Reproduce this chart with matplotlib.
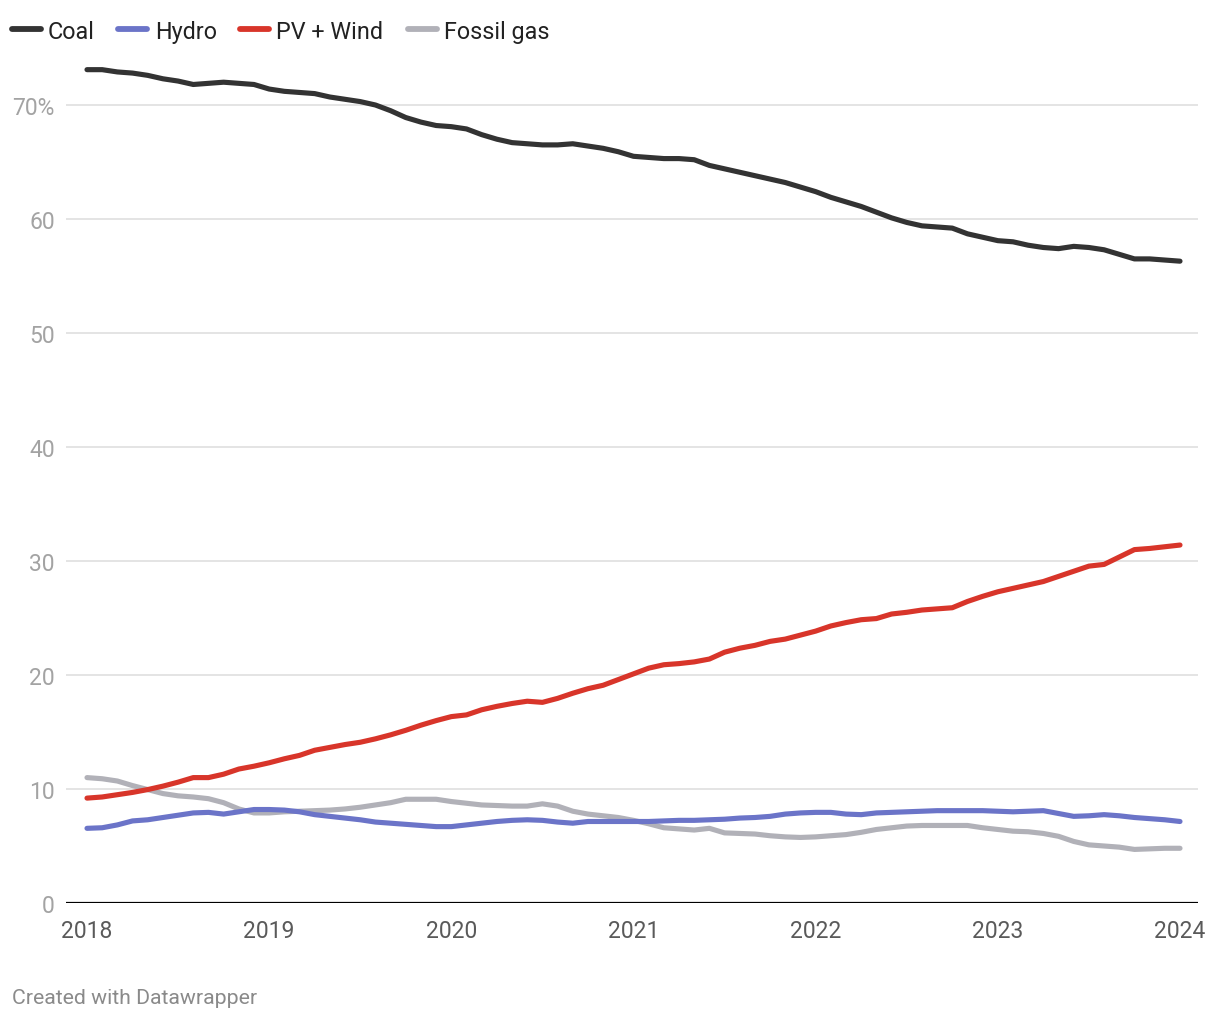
import matplotlib
matplotlib.use("Agg")
import matplotlib.pyplot as plt
from matplotlib.lines import Line2D
import numpy as np

plt.rcParams['font.family'] = ['Roboto', 'DejaVu Sans']

# Monthly values, Jan 2018 .. Jan 2024 (share of generation, %)
coal = [73.1, 73.1, 72.9, 72.8, 72.6, 72.3, 72.1, 71.8, 71.9, 72.0, 71.9, 71.8,
        71.4, 71.2, 71.1, 71.0, 70.7, 70.5, 70.3, 70.0, 69.5, 68.9, 68.5, 68.2,
        68.1, 67.9, 67.4, 67.0, 66.7, 66.6, 66.5, 66.5, 66.6, 66.4, 66.2, 65.9,
        65.5, 65.4, 65.3, 65.3, 65.2, 64.7, 64.4, 64.1, 63.8, 63.5, 63.2, 62.8,
        62.4, 61.9, 61.5, 61.1, 60.6, 60.1, 59.7, 59.4, 59.3, 59.2, 58.7, 58.4,
        58.1, 58.0, 57.7, 57.5, 57.4, 57.6, 57.5, 57.3, 56.9, 56.5, 56.5, 56.4,
        56.3]
hydro = [6.55, 6.6, 6.85, 7.2, 7.3, 7.5, 7.7, 7.9, 7.95, 7.8, 8.0, 8.2,
         8.2, 8.15, 8.0, 7.75, 7.6, 7.45, 7.3, 7.1, 7.0, 6.9, 6.8, 6.7,
         6.7, 6.85, 7.0, 7.15, 7.25, 7.3, 7.25, 7.1, 7.0, 7.15, 7.15, 7.15,
         7.15, 7.15, 7.2, 7.25, 7.25, 7.3, 7.35, 7.45, 7.5, 7.6, 7.8, 7.9,
         7.95, 7.95, 7.8, 7.75, 7.9, 7.95, 8.0, 8.05, 8.1, 8.1, 8.1, 8.1,
         8.05, 8.0, 8.05, 8.1, 7.85, 7.6, 7.65, 7.75, 7.65, 7.5, 7.4, 7.3,
         7.15]
pv_wind = [9.2, 9.3, 9.5, 9.7, 9.95, 10.25, 10.6, 11.0, 11.0, 11.3, 11.75, 12.0,
           12.3, 12.65, 12.95, 13.4, 13.65, 13.9, 14.1, 14.4, 14.75, 15.15, 15.6, 16.0,
           16.35, 16.5, 16.95, 17.25, 17.5, 17.7, 17.6, 17.95, 18.4, 18.8, 19.1, 19.6,
           20.1, 20.6, 20.9, 21.0, 21.15, 21.4, 22.0, 22.35, 22.6, 22.95, 23.15, 23.5,
           23.85, 24.3, 24.6, 24.85, 24.95, 25.35, 25.5, 25.7, 25.8, 25.9, 26.45, 26.9,
           27.3, 27.6, 27.9, 28.2, 28.65, 29.1, 29.55, 29.7, 30.35, 31.0, 31.1, 31.25,
           31.4]
fossil_gas = [11.0, 10.9, 10.7, 10.3, 9.95, 9.6, 9.4, 9.3, 9.15, 8.8, 8.25, 7.9,
              7.9, 8.0, 8.05, 8.1, 8.15, 8.25, 8.4, 8.6, 8.8, 9.1, 9.1, 9.1,
              8.9, 8.75, 8.6, 8.55, 8.5, 8.5, 8.7, 8.5, 8.05, 7.8, 7.65, 7.5,
              7.25, 6.95, 6.6, 6.5, 6.4, 6.55, 6.15, 6.1, 6.05, 5.9, 5.8, 5.75,
              5.8, 5.9, 6.0, 6.2, 6.45, 6.6, 6.75, 6.8, 6.8, 6.8, 6.8, 6.6,
              6.45, 6.3, 6.25, 6.1, 5.85, 5.4, 5.1, 5.0, 4.9, 4.7, 4.75, 4.8,
              4.8]

series_names = ["Coal", "Hydro", "PV + Wind", "Fossil gas"]
series_colors = ["#333333", "#6b74c8", "#d8352a", "#b1b1b8"]
year_labels = ["2018", "2019", "2020", "2021", "2022", "2023", "2024"]
y_ticks = [0, 10, 20, 30, 40, 50, 60, 70]
y_tick_labels = ["0", "10", "20", "30", "40", "50", "60", "70%"]

W, H = 1220, 1020
fig = plt.figure(figsize=(W / 100, H / 100), dpi=100)
fig.patch.set_facecolor("white")

ax_left, ax_right = 66, 1198
ax_bottom, ax_top = 904, 60
ax = fig.add_axes([ax_left / W, 1 - ax_bottom / H, (ax_right - ax_left) / W,
                   (ax_bottom - ax_top) / H])

months = np.arange(len(coal))
px_per_month = (1180 - 87) / 72.0
ax.set_xlim(-(87 - ax_left) / px_per_month, 72 + (ax_right - 1180) / px_per_month)
px_per_unit = (904 - 106) / 70.0
ax.set_ylim(0, (ax_bottom - ax_top) / px_per_unit)

for s in ax.spines.values():
    s.set_visible(False)

# gridlines
for yv in y_ticks[1:]:
    ax.axhline(yv, color="#e4e4e4", lw=1.4, zorder=1)
ax.axhline(0, color="#000000", lw=1.6, zorder=2)

data = [coal, hydro, pv_wind, fossil_gas]
order = [3, 1, 2, 0]
for z, idx in enumerate(order):
    ax.plot(months, data[idx], color=series_colors[idx], lw=3.7,
            solid_capstyle="round", solid_joinstyle="round",
            zorder=3 + z, clip_on=False)

ax.set_xticks(np.arange(0, 73, 12))
ax.set_xticklabels(year_labels, color="#5a5a5a", fontsize=16.5)
ax.set_yticks(y_ticks)
ax.set_yticklabels(y_tick_labels, color="#a3a3a3", fontsize=16.5)
ax.tick_params(axis="x", length=0, pad=11.5)
ax.tick_params(axis="y", length=0, pad=8)

# legend
legend_items = [(12, 48), (118, 155), (240, 276), (408, 444)]
ly = 30
for (hx, tx), name, col in zip(legend_items, series_names, series_colors):
    fig.add_artist(Line2D([hx / W, (hx + 29) / W], [1 - ly / H, 1 - ly / H],
                          color=col, lw=4.2, solid_capstyle="round",
                          transform=fig.transFigure))
    fig.text(tx / W, 1 - ly / H, name, fontsize=16.8, color="#222222",
             va="center_baseline", ha="left")

fig.text(12 / W, 1 - 997 / H, "Created with Datawrapper", fontsize=15.3,
         color="#8a8a8a", va="center_baseline", ha="left")

fig.savefig("out.png", dpi=100, facecolor="white")
